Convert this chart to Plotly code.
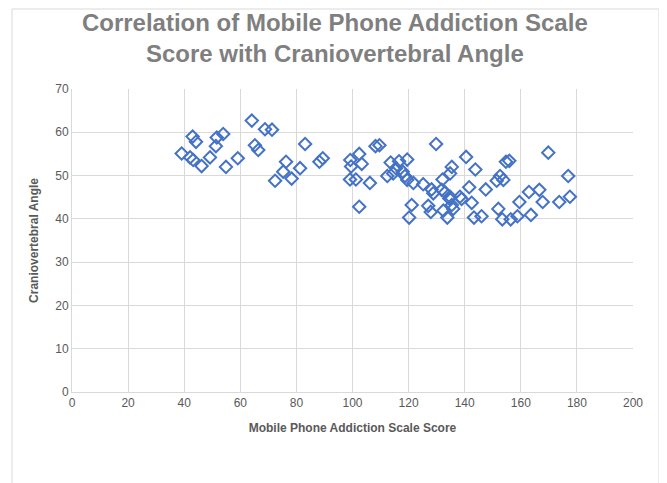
import plotly.graph_objects as go

title_text = "Correlation of Mobile Phone Addiction Scale<br>Score with Craniovertebral Angle"
x_title = "Mobile Phone Addiction Scale Score"
y_title = "Craniovertebral Angle"

mpas_score = [
    39.1, 42.1, 43.2, 43.0, 44.2, 46.2, 49.2, 51.3, 51.6, 53.9,
    54.9, 59.1, 64.1, 65.2, 66.4, 68.8, 71.3, 72.4, 75.3, 76.3,
    78.3, 81.3, 83.1, 88.2, 89.4, 99.2, 99.5, 99.1, 101.2, 102.4,
    103.3, 102.4, 106.2, 108.2, 109.6, 113.6, 116.6, 119.5, 115.5, 112.4,
    114.5, 117.9, 118.7, 119.5, 121.7, 125.2, 128.2, 129.8, 132.1, 134.8,
    135.4, 131.8, 128.8, 133.0, 134.5, 121.1, 127.0, 120.2, 127.9, 132.4,
    135.4, 133.8, 134.8, 138.3, 138.9, 135.9, 140.5, 143.8, 141.6, 142.5,
    143.3, 146.0, 147.5, 152.6, 151.4, 153.8, 152.0, 153.4, 154.7, 155.9,
    156.4, 158.8, 159.5, 162.9, 163.6, 166.6, 167.8, 169.8, 173.7, 176.9,
    177.5,
]
cv_angle = [
    55.1, 54.2, 53.6, 59.0, 57.8, 52.2, 54.2, 56.8, 58.8, 59.6,
    52.0, 54.0, 62.7, 57.0, 55.9, 60.7, 60.6, 48.8, 50.9, 53.2,
    49.3, 51.7, 57.3, 53.2, 54.0, 53.6, 52.1, 49.1, 49.1, 55.0,
    52.7, 42.8, 48.3, 56.8, 57.0, 53.0, 53.3, 53.7, 51.7, 49.9,
    50.5, 50.9, 49.9, 49.0, 48.3, 48.0, 46.8, 57.3, 49.1, 50.5,
    52.0, 46.7, 45.9, 46.1, 44.7, 43.2, 43.0, 40.3, 41.6, 41.9,
    43.2, 40.3, 45.1, 45.1, 44.6, 42.3, 54.3, 51.4, 47.3, 43.7,
    40.3, 40.6, 46.8, 49.9, 48.8, 49.0, 42.3, 39.9, 53.2, 53.4,
    39.9, 40.6, 43.9, 46.2, 40.9, 46.7, 43.9, 55.3, 43.9, 49.9,
    45.1,
]
x_ticks = [0, 20, 40, 60, 80, 100, 120, 140, 160, 180, 200]
y_ticks = [0, 10, 20, 30, 40, 50, 60, 70]

fig = go.Figure()
fig.add_trace(go.Scatter(
    x=mpas_score, y=cv_angle, mode="markers",
    marker=dict(symbol="diamond-open", size=9.5, color="#4472C4",
                line=dict(width=2, color="#4472C4")),
    showlegend=False,
))

base_font = "Liberation Sans, Arial"
tick_font = dict(family=base_font, size=12, color="#595959")
fig.update_layout(
    width=667, height=483,
    margin=dict(l=64, r=42, t=81, b=99),
    paper_bgcolor="white", plot_bgcolor="white",
    title=dict(text=title_text, x=0.49, xanchor="center", y=0.952, yanchor="top",
               font=dict(family=base_font, size=24, color="#7F7F7F", weight="bold")),
    xaxis=dict(range=[0, 200], tickvals=x_ticks, showgrid=True, gridcolor="#D9D9D9",
               gridwidth=1, zeroline=False, showline=True, linecolor="#D9D9D9",
               ticks="", tickfont=tick_font, fixedrange=True,
               title=dict(text=x_title, standoff=14,
                          font=dict(family=base_font, size=12,
                                    color="#595959", weight="bold"))),
    yaxis=dict(range=[0, 70], tickvals=y_ticks, showgrid=True, gridcolor="#D9D9D9",
               gridwidth=1, zeroline=False, showline=True, linecolor="#D9D9D9",
               ticks="", tickfont=tick_font, fixedrange=True,
               title=dict(text=y_title, standoff=14,
                          font=dict(family=base_font, size=12,
                                    color="#595959", weight="bold"))),
)
fig.add_shape(type="rect", xref="paper", yref="paper",
              x0=(12 - 72) / 561, x1=(659 - 72) / 561,
              y0=(392 - 500) / 303, y1=(392 - 9) / 303,
              line=dict(color="#D9D9D9", width=1), fillcolor="rgba(0,0,0,0)", layer="below")

fig.write_html("out.html")
